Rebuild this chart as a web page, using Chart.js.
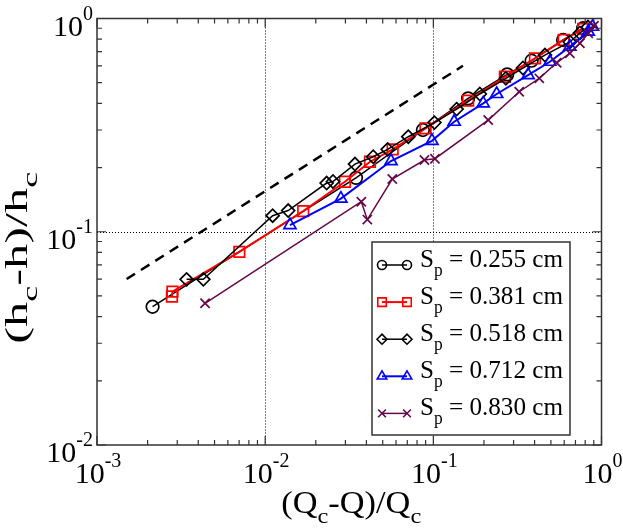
<!DOCTYPE html>
<html>
<head>
<meta charset="utf-8">
<script src="https://cdn.jsdelivr.net/npm/chart.js@4.4.0/dist/chart.umd.min.js"></script>
<style>
  html, body { margin: 0; padding: 0; background: #fff; }
  #wrap { width: 623px; height: 528px; }
</style>
</head>
<body>
<div id="wrap"><canvas id="chart" width="623" height="528"></canvas></div>
<script>
// S_p = 0.255 cm (circles)
const sp255X = [0.00214, 0.0347, 0.0867, 0.161, 0.275, 0.384, 0.591, 0.778];
const sp255Y = [0.0445, 0.179, 0.300, 0.422, 0.547, 0.634, 0.793, 0.900];
// S_p = 0.381 cm (squares)
const sp381X = [0.00279, 0.00281, 0.00702, 0.01684, 0.0298, 0.0420, 0.0573, 0.0899, 0.161, 0.2665, 0.402, 0.596, 0.778];
const sp381Y = [0.0497, 0.0524, 0.0805, 0.125, 0.1716, 0.213, 0.2435, 0.3055, 0.412, 0.533, 0.650, 0.793, 0.893];
// S_p = 0.518 cm (diamonds)
const sp518X = [0.00341, 0.00429, 0.01108, 0.0137, 0.0232, 0.0253, 0.0342, 0.0439, 0.0535, 0.0710, 0.1015, 0.1376, 0.189, 0.270, 0.341, 0.461, 0.648, 0.744, 0.830];
const sp518Y = [0.0598, 0.0598, 0.1189, 0.1257, 0.1692, 0.172, 0.2077, 0.2248, 0.2435, 0.279, 0.325, 0.376, 0.4426, 0.524, 0.586, 0.674, 0.776, 0.855, 0.912];
// S_p = 0.712 cm (triangles)
const sp712X = [0.01404, 0.0282, 0.0560, 0.0981, 0.133, 0.198, 0.238, 0.366, 0.493, 0.648, 0.834, 0.885];
const sp712Y = [0.1075, 0.143, 0.2146, 0.267, 0.328, 0.400, 0.4426, 0.543, 0.627, 0.738, 0.867, 0.915];
// S_p = 0.830 cm (crosses)
const sp830X = [0.00439, 0.0373, 0.0405, 0.0570, 0.0885, 0.1022, 0.212, 0.324, 0.4266, 0.541, 0.648, 0.744, 0.834, 0.902];
const sp830Y = [0.0462, 0.1383, 0.114, 0.1767, 0.217, 0.220, 0.334, 0.4535, 0.524, 0.620, 0.687, 0.765, 0.852, 0.925];
// slope 1/2 guide line
const guideX = [0.0015, 0.15];
const guideY = [0.06, 0.6];

const seriesLabels = ['0.255', '0.381', '0.518', '0.712', '0.830'];
const xDecades = [0.001, 0.01, 0.1, 1];
const xExponents = ['-3', '-2', '-1', '0'];
const yDecades = [0.01, 0.1, 1];
const yExponents = ['-2', '-1', '0'];
const xGridAt = [0.01, 0.1];
const yGridAt = [0.1];

const FONT = '"Liberation Serif", "Times New Roman", serif';
const styles = [
  { color: '#000000', shape: 'circle', r: 6.3, lw: 1.5, lr: 4.5 },
  { color: '#ff0000', shape: 'rect', r: 7.5, lw: 2, lr: 6 },
  { color: '#000000', shape: 'rectRot', r: 6.5, lw: 1.5, lr: 5 },
  { color: '#0000ff', shape: 'triangle', r: 7, lw: 2, lr: 5.5 },
  { color: '#670748', shape: 'crossRot', r: 6.5, lw: 1.5, lr: 5.5 }
];

function pts(xs, ys) {
  return xs.map((x, i) => ({ x: x, y: ys[i] }));
}

const seriesData = [pts(sp255X, sp255Y), pts(sp381X, sp381Y), pts(sp518X, sp518Y), pts(sp712X, sp712Y), pts(sp830X, sp830Y)];

const datasets = seriesData.map((d, i) => ({
  label: 'S_p = ' + seriesLabels[i] + ' cm',
  data: d,
  showLine: true,
  tension: 0,
  borderColor: styles[i].color,
  borderWidth: styles[i].lw,
  backgroundColor: 'rgba(0,0,0,0)',
  pointStyle: styles[i].shape,
  pointRadius: styles[i].r,
  pointBorderWidth: 1.7,
  pointBorderColor: styles[i].color,
  pointBackgroundColor: 'rgba(0,0,0,0)',
  order: 10 - i
}));
datasets.push({
  label: 'guide',
  data: pts(guideX, guideY),
  showLine: true,
  borderColor: '#000',
  borderWidth: 2.5,
  borderDash: [10, 7],
  pointRadius: 0,
  order: 20
});

// draw text made of pieces: [text, 0 normal | 1 sub | 2 sup]
function drawParts(ctx, parts, x, y, size, align, fitWidth, ratio) {
  const small = Math.round(size * (ratio || 0.65));
  let total = 0;
  const widths = parts.map(p => {
    ctx.font = (p[1] ? small : size) + 'px ' + FONT;
    const w = ctx.measureText(p[0]).width;
    total += w;
    return w;
  });
  const s = fitWidth ? fitWidth / total : 1;
  let x0 = x;
  if (align === 'center') x0 = x - total * s / 2;
  if (align === 'right') x0 = x - total * s;
  ctx.save();
  ctx.translate(x0, y);
  ctx.scale(s, 1);
  ctx.textAlign = 'left';
  ctx.textBaseline = 'alphabetic';
  let cx = 0;
  parts.forEach((p, i) => {
    ctx.font = (p[1] ? small : size) + 'px ' + FONT;
    let dy = 0;
    if (p[1] === 1) dy = size * 0.33;
    if (p[1] === 2) dy = -size * 0.52;
    ctx.fillText(p[0], cx, dy);
    cx += widths[i];
  });
  ctx.restore();
}

function marker(ctx, shape, x, y, r) {
  ctx.beginPath();
  if (shape === 'circle') {
    ctx.arc(x, y, r, 0, Math.PI * 2);
  } else if (shape === 'rect') {
    const s = r * Math.SQRT1_2;
    ctx.rect(x - s, y - s, 2 * s, 2 * s);
  } else if (shape === 'rectRot') {
    ctx.moveTo(x - r, y); ctx.lineTo(x, y - r); ctx.lineTo(x + r, y); ctx.lineTo(x, y + r); ctx.closePath();
  } else if (shape === 'triangle') {
    for (let k = 0; k < 3; k++) {
      const a = k * 2 * Math.PI / 3;
      const px = x + Math.sin(a) * r, py = y - Math.cos(a) * r;
      if (k === 0) ctx.moveTo(px, py); else ctx.lineTo(px, py);
    }
    ctx.closePath();
  } else if (shape === 'crossRot') {
    const s = r * Math.SQRT1_2;
    ctx.moveTo(x - s, y - s); ctx.lineTo(x + s, y + s);
    ctx.moveTo(x - s, y + s); ctx.lineTo(x + s, y - s);
  }
  ctx.stroke();
}

// grid, frame, inward ticks, tick labels and axis titles
const axesPlugin = {
  id: 'axesPlugin',
  beforeDatasetsDraw(chart) {
    const { ctx, chartArea: a, scales: { x, y } } = chart;
    ctx.save();
    ctx.strokeStyle = '#000';
    ctx.lineWidth = 1;
    ctx.setLineDash([1, 2]);
    xGridAt.forEach(v => {
      const px = Math.round(x.getPixelForValue(v)) + 0.5;
      ctx.beginPath(); ctx.moveTo(px, a.top); ctx.lineTo(px, a.bottom); ctx.stroke();
    });
    yGridAt.forEach(v => {
      const py = Math.round(y.getPixelForValue(v)) + 0.5;
      ctx.beginPath(); ctx.moveTo(a.left, py); ctx.lineTo(a.right, py); ctx.stroke();
    });
    ctx.restore();
  },
  afterDatasetsDraw(chart) {
    const { ctx, chartArea: a, scales: { x, y } } = chart;
    ctx.save();
    ctx.strokeStyle = '#333';
    ctx.lineWidth = 1.5;
    ctx.setLineDash([]);
    ctx.strokeRect(a.left, a.top, a.right - a.left, a.bottom - a.top);

    ctx.beginPath();
    xDecades.forEach((d, i) => {
      for (let m = 1; m <= 9; m++) {
        if (m > 1 && i === xDecades.length - 1) break;
        const px = x.getPixelForValue(m * d);
        const len = m === 1 ? 9 : 5;
        ctx.moveTo(px, a.bottom); ctx.lineTo(px, a.bottom - len);
        ctx.moveTo(px, a.top); ctx.lineTo(px, a.top + len);
      }
    });
    yDecades.forEach((d, i) => {
      for (let m = 1; m <= 9; m++) {
        if (m > 1 && i === yDecades.length - 1) break;
        const py = y.getPixelForValue(m * d);
        const len = m === 1 ? 9 : 5;
        ctx.moveTo(a.left, py); ctx.lineTo(a.left + len, py);
        ctx.moveTo(a.right, py); ctx.lineTo(a.right - len, py);
      }
    });
    ctx.lineWidth = 1.2;
    ctx.stroke();

    ctx.fillStyle = '#000';
    xDecades.forEach((d, i) => {
      drawParts(ctx, [['10', 0], [xExponents[i], 2]], x.getPixelForValue(d) + 1, a.bottom + 38, 30, 'center', 0, 0.68);
    });
    yDecades.forEach((d, i) => {
      drawParts(ctx, [['10', 0], [yExponents[i], 2]], a.left - 4, y.getPixelForValue(d) + 17, 30, 'right', 0, 0.68);
    });

    drawParts(ctx, [['(Q', 0], ['c', 1], ['-Q)/Q', 0], ['c', 1]], (a.left + a.right) / 2 + 2, 513, 31, 'center', 140, 0.7);

    ctx.save();
    ctx.translate(27, (a.top + a.bottom) / 2 + 26);
    ctx.rotate(-Math.PI / 2);
    drawParts(ctx, [['(h', 0], ['c', 1], ['-h)/h', 0], ['c', 1]], 0, 0, 31, 'center', 172, 0.7);
    ctx.restore();
    ctx.restore();
  }
};

// boxed legend inside the plot
const legendPlugin = {
  id: 'boxLegend',
  afterDraw(chart) {
    const ctx = chart.ctx;
    const bx = 372, by = 242, bw = 198, bh = 193;
    ctx.save();
    ctx.fillStyle = '#fff';
    ctx.fillRect(bx, by, bw, bh);
    ctx.strokeStyle = '#333';
    ctx.lineWidth = 1.5;
    ctx.strokeRect(bx, by, bw, bh);
    seriesLabels.forEach((lab, i) => {
      const st = styles[i];
      const ry = 265 + i * 37.1;
      ctx.strokeStyle = st.color;
      ctx.lineWidth = st.lw;
      ctx.beginPath(); ctx.moveTo(382, ry); ctx.lineTo(407, ry); ctx.stroke();
      ctx.lineWidth = 1.6;
      marker(ctx, st.shape, 382, ry, st.lr);
      marker(ctx, st.shape, 407, ry, st.lr);
      ctx.fillStyle = '#000';
      drawParts(ctx, [['S', 0], ['p', 1], [' = ' + lab + ' cm', 0]], 420, ry + 2, 26, 'left', 143, 0.68);
    });
    ctx.restore();
  }
};

const ctx = document.getElementById('chart').getContext('2d');
const chart = new Chart(ctx, {
  type: 'scatter',
  data: { datasets: datasets },
  options: {
    responsive: false,
    animation: false,
    devicePixelRatio: 1,
    layout: { padding: { top: 18.5, right: 21.5, left: 0, bottom: 0 } },
    plugins: {
      legend: { display: false },
      tooltip: { enabled: false }
    },
    scales: {
      x: {
        type: 'logarithmic', min: 0.001, max: 1,
        ticks: { display: false },
        grid: { display: false },
        border: { display: false },
        afterFit: s => { s.height = 83; }
      },
      y: {
        type: 'logarithmic', min: 0.01, max: 1,
        ticks: { display: false },
        grid: { display: false },
        border: { display: false },
        afterFit: s => { s.width = 97; }
      }
    }
  },
  plugins: [axesPlugin, legendPlugin]
});
</script>
</body>
</html>
